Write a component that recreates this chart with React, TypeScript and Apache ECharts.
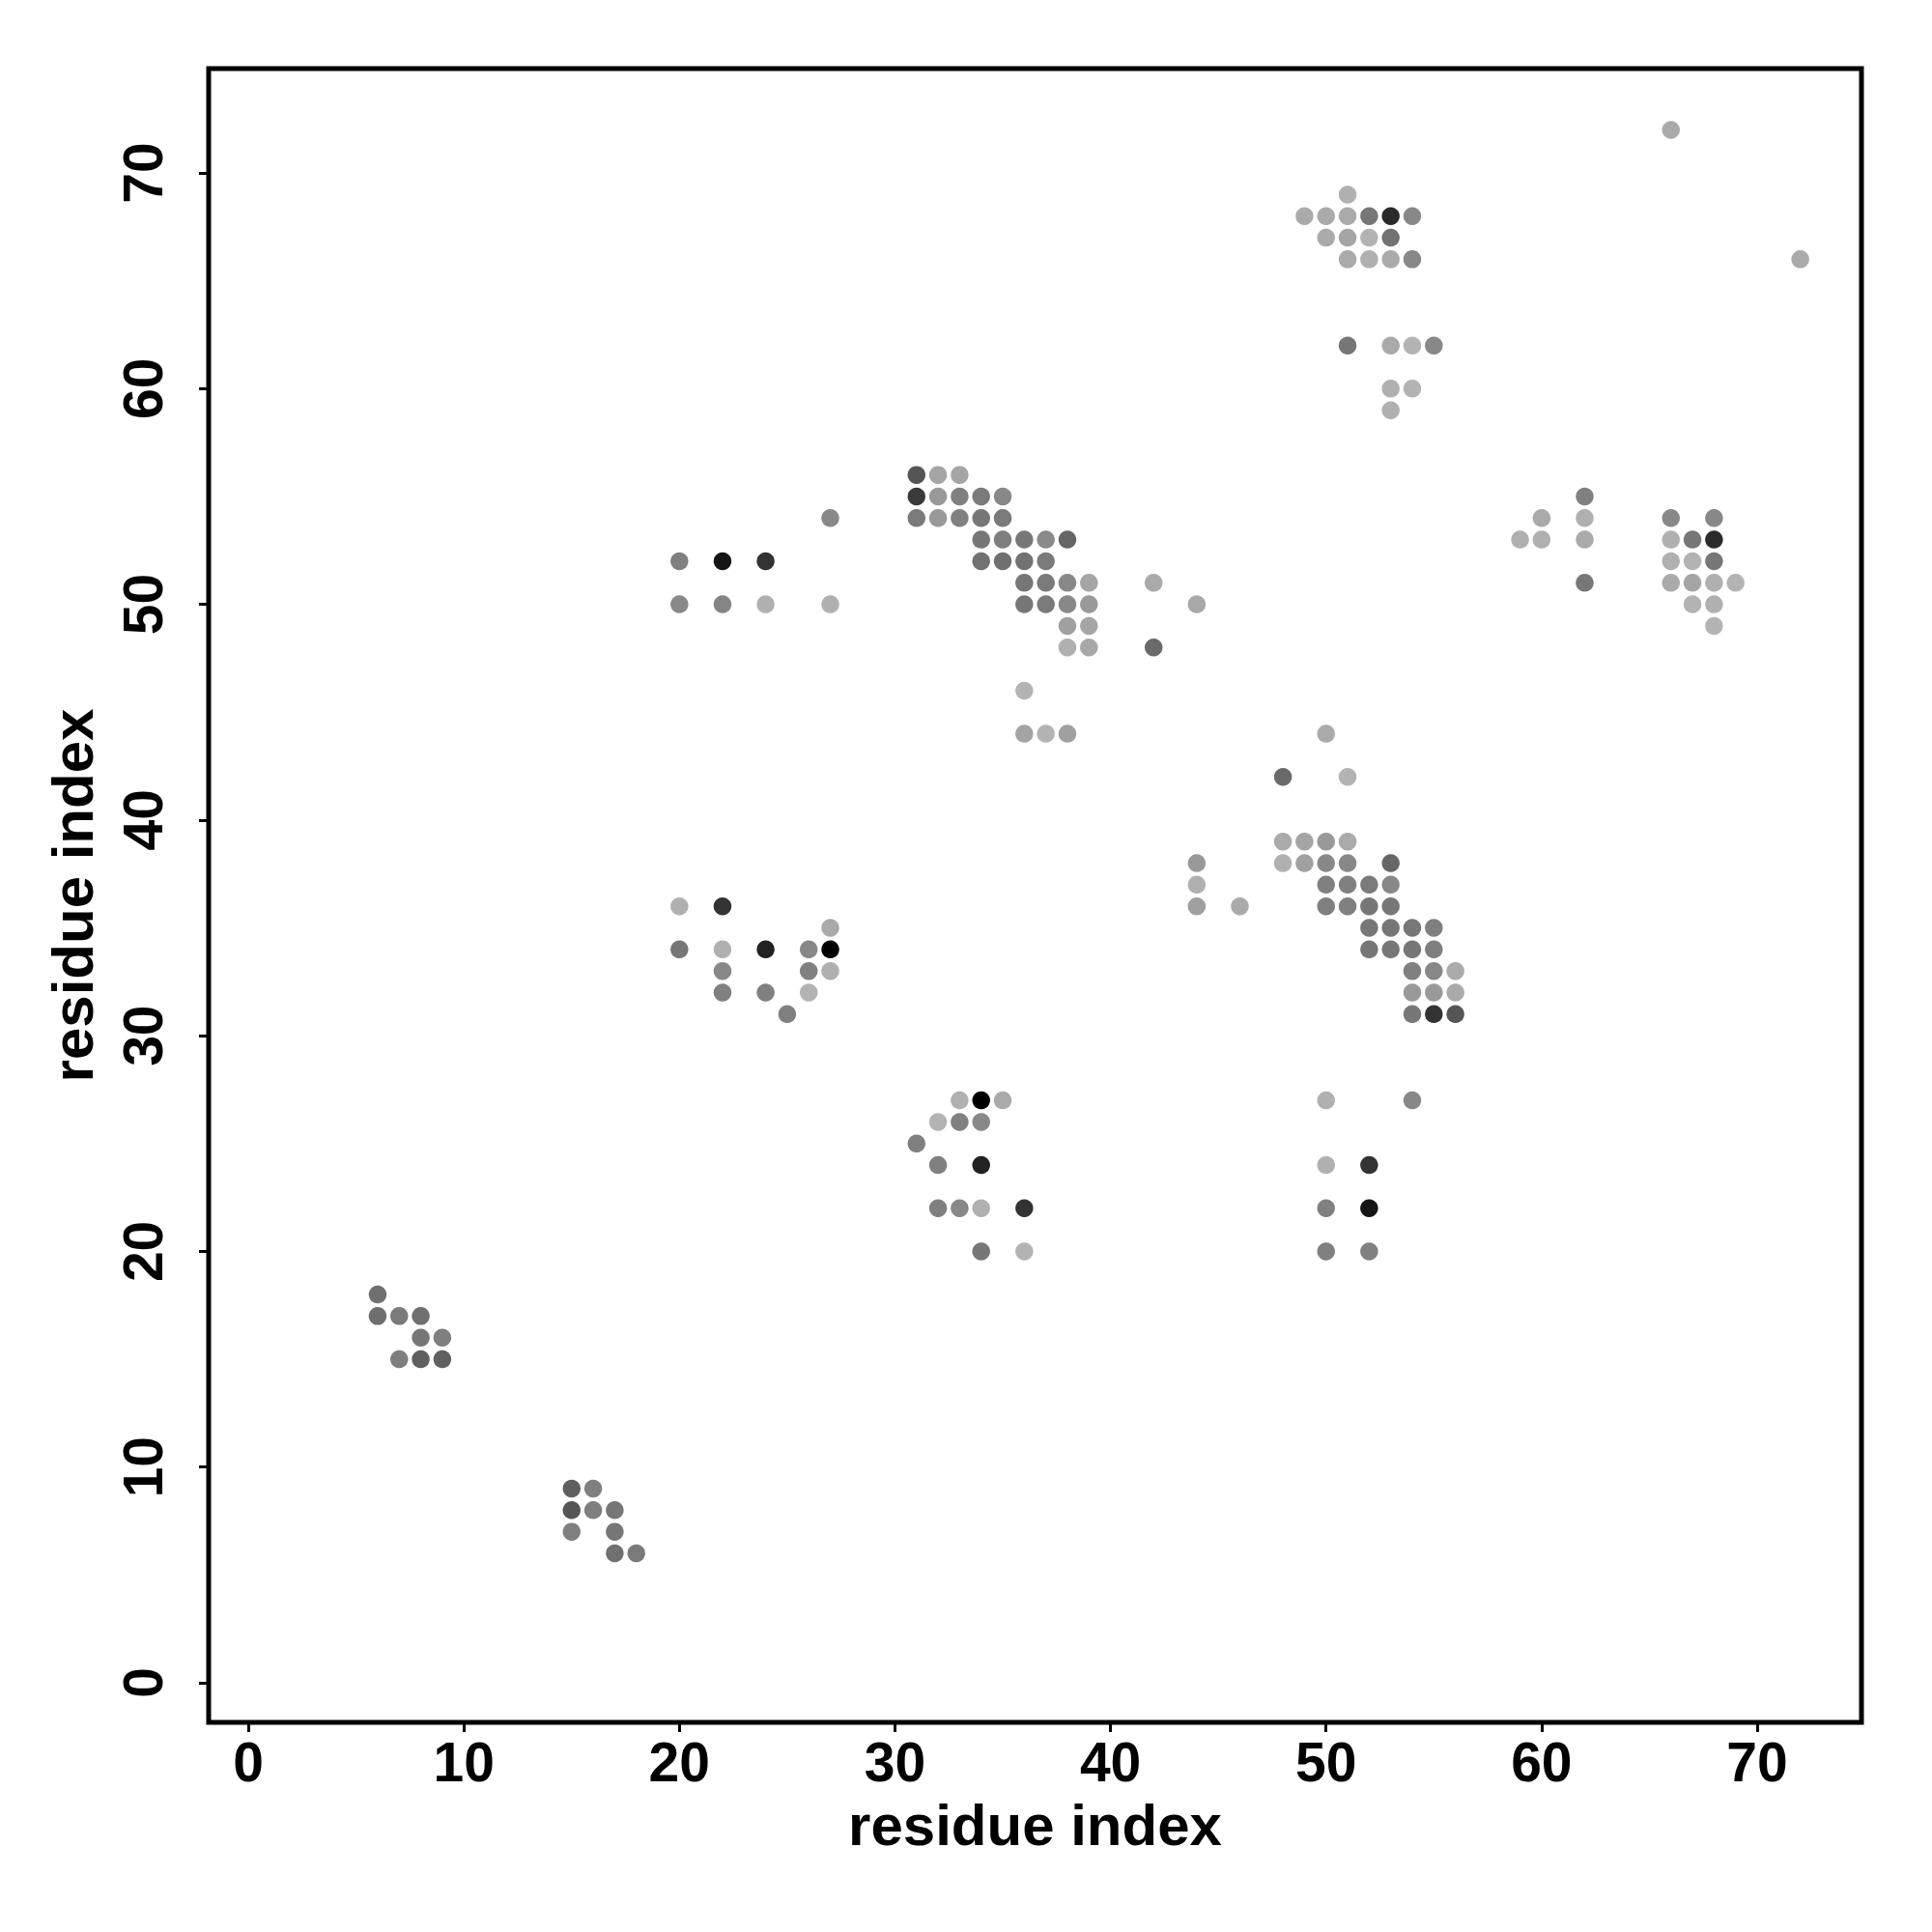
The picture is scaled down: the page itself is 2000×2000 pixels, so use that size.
import React, { useEffect, useRef } from "react";
import * as echarts from "echarts";

// [x residue, y residue, gray level 0-255]
const contacts1 = [[6,18,112],[6,17,110],[7,17,122],[8,17,112],[8,16,119],[9,16,127],[7,15,127],[8,15,95],[9,15,96]];
const contacts2 = [[15,9,95],[16,9,128],[15,8,85],[16,8,127],[17,8,119],[15,7,128],[17,7,119],[17,6,112],[18,6,122]];
const contacts3 = [[20,36,176],[22,36,51],[27,35,170],[20,34,119],[22,34,176],[24,34,34],[26,34,136],[27,34,0],[22,33,136],[26,33,128],[27,33,176],[22,32,128],[24,32,128],[26,32,179],[25,31,128]];
const contacts4 = [[27,54,136],[20,52,128],[22,52,21],[24,52,51],[20,50,136],[22,50,133],[24,50,176],[27,50,176]];
const contacts5 = [
  [31,56,85],[32,56,165],[33,56,165],
  [31,55,58],[32,55,153],[33,55,128],[34,55,122],[35,55,136],
  [31,54,122],[32,54,153],[33,54,128],[34,54,119],[35,54,122],
  [34,53,119],[35,53,127],[36,53,119],[37,53,138],[38,53,102],
  [34,52,114],[35,52,112],[36,52,114],[37,52,122],
  [36,51,119],[37,51,122],[38,51,136],[39,51,165],
  [36,50,119],[37,50,122],[38,50,136],[39,50,153],
  [38,49,160],[39,49,165],
  [38,48,176],[39,48,168],
  [36,46,179],
  [36,44,163],[37,44,179],[38,44,160]
];
const contacts6 = [[33,27,176],[34,27,0],[35,27,170],[32,26,179],[33,26,128],[34,26,136],[31,25,128],[32,24,128],[34,24,34],[32,22,128],[33,22,136],[34,22,176],[36,22,51],[34,20,119],[36,20,179]];
const contacts7 = [[42,51,170],[44,50,168],[42,48,106],[44,38,153],[44,37,176],[44,36,159],[46,36,170]];
const contacts8 = [
  [50,44,170],[48,42,106],[51,42,179],
  [48,39,170],[49,39,165],[50,39,153],[51,39,170],
  [48,38,176],[49,38,160],[50,38,136],[51,38,136],[53,38,102],
  [50,37,128],[51,37,128],[52,37,122],[53,37,136],
  [50,36,128],[51,36,128],[52,36,119],[53,36,119],
  [52,35,119],[53,35,119],[54,35,119],[55,35,128],
  [52,34,119],[53,34,119],[54,34,119],[55,34,127],
  [54,33,128],[55,33,136],[56,33,170],
  [54,32,153],[55,32,153],[56,32,170],
  [54,31,119],[55,31,51],[56,31,85],
  [54,27,136]
];
const contacts9 = [[50,27,176],[50,24,176],[52,24,51],[50,22,128],[52,22,21],[50,20,128],[52,20,128]];
const contacts10 = [[51,69,176],[49,68,170],[50,68,170],[51,68,170],[52,68,119],[53,68,42],[54,68,136],[50,67,170],[51,67,165],[52,67,179],[53,67,114],[51,66,170],[52,66,176],[53,66,170],[54,66,136],[51,62,119],[53,62,170],[54,62,179],[55,62,136],[53,60,176],[54,60,179],[53,59,176]];
const contacts11 = [[62,55,128],[60,54,170],[62,54,176],[59,53,176],[60,53,176],[62,53,170],[62,51,119],[66,54,136],[68,54,136],[66,53,176],[67,53,119],[68,53,42],[66,52,176],[67,52,179],[68,52,119],[66,51,170],[67,51,165],[68,51,176],[69,51,179],[67,50,179],[68,50,176],[68,49,179]];
const contacts12 = [[66,72,170],[72,66,170]];

const tickValues = [0, 10, 20, 30, 40, 50, 60, 70];
const axisMin = -1.84;
const axisMax = 74.84;
const axisTitle = "residue index";

const allContacts = [
  ...contacts1, ...contacts2, ...contacts3, ...contacts4, ...contacts5, ...contacts6,
  ...contacts7, ...contacts8, ...contacts9, ...contacts10, ...contacts11, ...contacts12,
];

const FONT = "Liberation Sans";

export default function App() {
  const ref = useRef<HTMLDivElement>(null);
  useEffect(() => {
    document.body.style.margin = "0";
    const chart = echarts.init(ref.current!, null, { renderer: "svg" });
    const labelStyle = {
      fontSize: 57,
      fontWeight: "bold" as const,
      color: "#000",
      fontFamily: FONT,
    };
    const titleStyle = { ...labelStyle, fontSize: 60 };
    const axisCommon = {
      type: "value" as const,
      min: axisMin,
      max: axisMax,
      splitLine: { show: false },
      axisLine: { show: false, onZero: false },
      axisTick: {
        show: true,
        customValues: tickValues,
        length: 10,
        lineStyle: { color: "#000", width: 3 },
      },
      name: axisTitle,
      nameLocation: "middle" as const,
      nameTextStyle: titleStyle,
    };
    chart.setOption({
      animation: false,
      backgroundColor: "#fff",
      grid: {
        left: 216,
        top: 71,
        width: 1711,
        height: 1712,
        show: true,
        borderColor: "#000",
        borderWidth: 5,
        containLabel: false,
      },
      xAxis: {
        ...axisCommon,
        nameGap: 76,
        axisLabel: { ...labelStyle, customValues: tickValues, margin: 12 },
      },
      yAxis: {
        ...axisCommon,
        nameGap: 111,
        axisLabel: { ...labelStyle, customValues: tickValues, margin: 40, rotate: 90 },
      },
      series: [
        {
          type: "scatter",
          symbol: "circle",
          symbolSize: 18.5,
          itemStyle: { opacity: 1 },
          data: allContacts.map(([x, y, g]) => ({
            value: [x, y],
            itemStyle: { color: `rgb(${g},${g},${g})`, opacity: 1 },
          })),
        },
      ],
    });
    return () => chart.dispose();
  }, []);
  return <div ref={ref} style={{ width: 2000, height: 2000 }} />;
}
